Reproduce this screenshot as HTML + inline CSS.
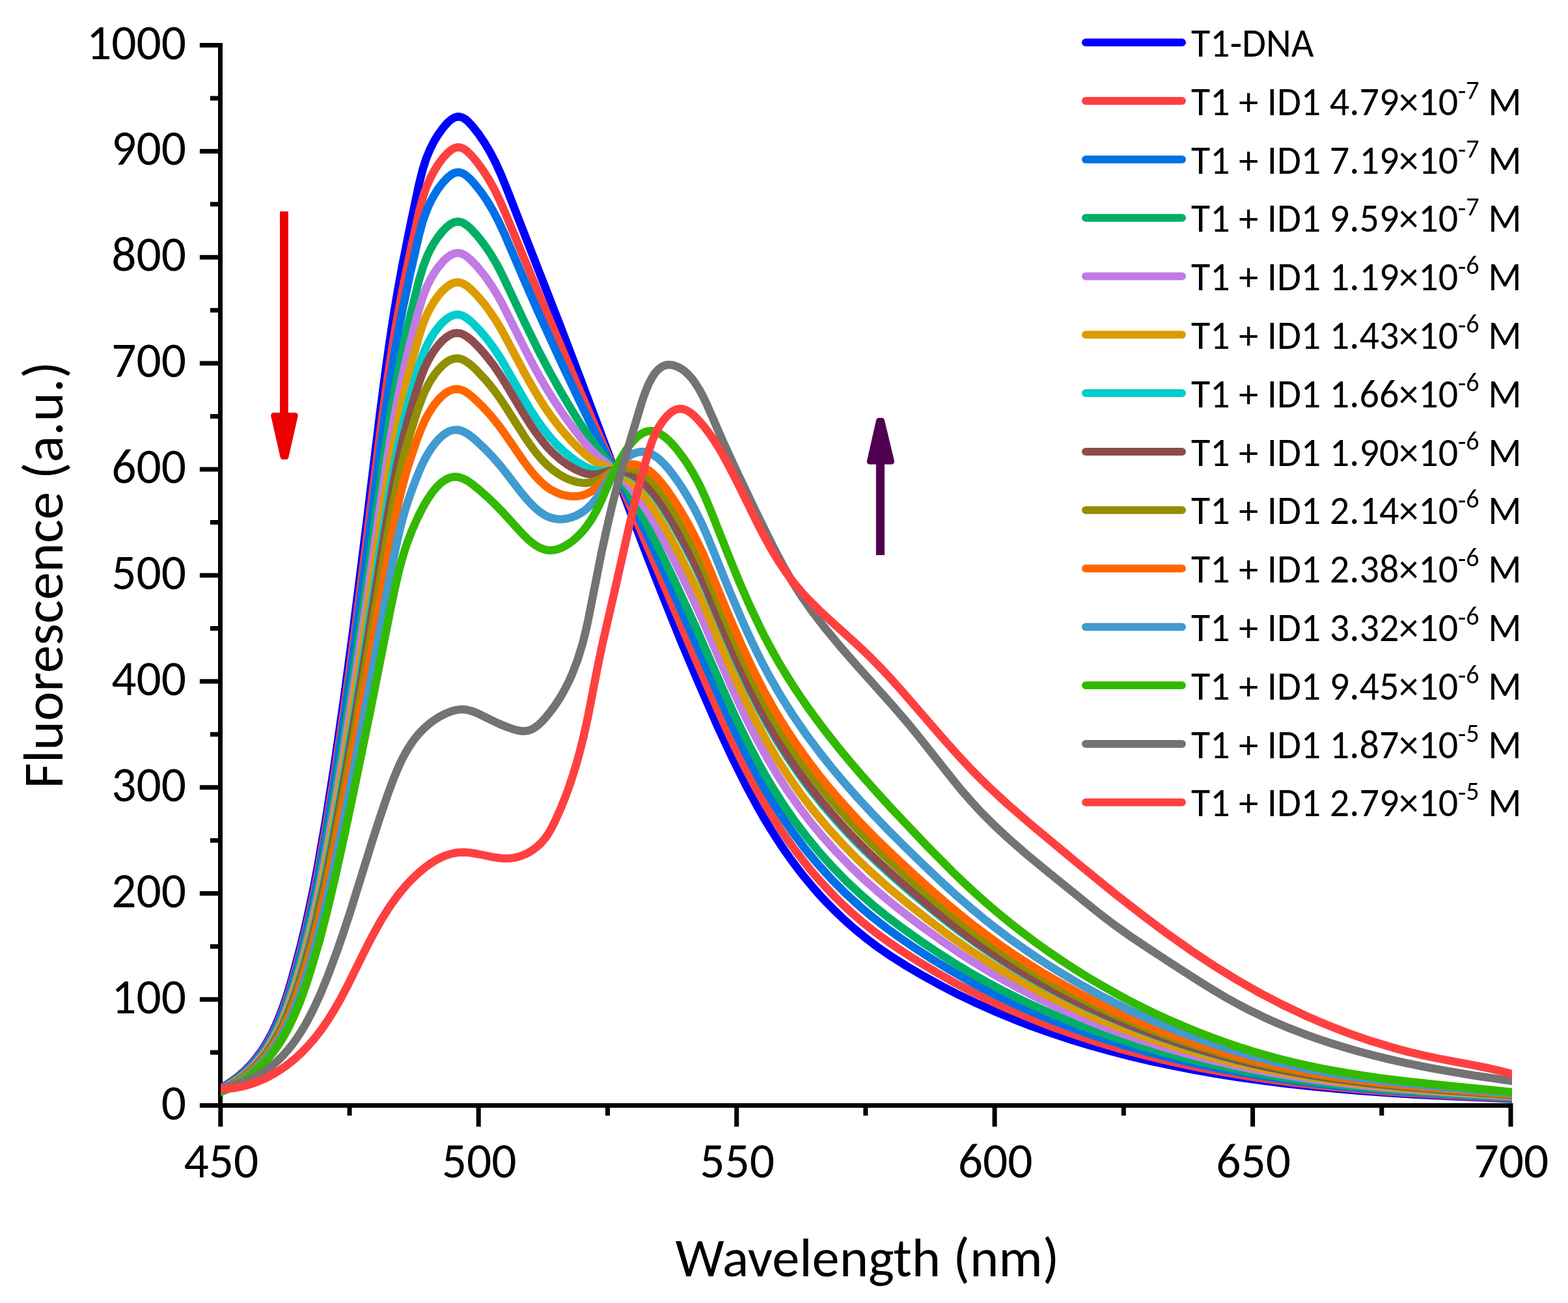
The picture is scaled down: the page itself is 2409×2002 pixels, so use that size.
<!DOCTYPE html>
<html><head><meta charset="utf-8"><title>Fluorescence spectra</title>
<style>html,body{margin:0;padding:0;background:#fff;overflow:hidden}svg{display:block}
text{font-family:Carlito,"Liberation Sans",sans-serif;fill:#000}</style></head>
<body>
<svg xmlns="http://www.w3.org/2000/svg" width="2409" height="2002" viewBox="0 0 2409 2002">
<rect width="2409" height="2002" fill="#fff"/>
<g fill="#000">
<rect x="335.0" y="66.0" width="7.0" height="1632.5"/>
<rect x="335.0" y="1695.0" width="1989.5" height="7.0"/>
<rect x="306.9" y="1695.0" width="28.1" height="7.0"/>
<rect x="322.9" y="1613.5" width="12.1" height="7.0"/>
<rect x="306.9" y="1532.1" width="28.1" height="7.0"/>
<rect x="322.9" y="1450.7" width="12.1" height="7.0"/>
<rect x="306.9" y="1369.2" width="28.1" height="7.0"/>
<rect x="322.9" y="1287.8" width="12.1" height="7.0"/>
<rect x="306.9" y="1206.3" width="28.1" height="7.0"/>
<rect x="322.9" y="1124.8" width="12.1" height="7.0"/>
<rect x="306.9" y="1043.4" width="28.1" height="7.0"/>
<rect x="322.9" y="962.0" width="12.1" height="7.0"/>
<rect x="306.9" y="880.5" width="28.1" height="7.0"/>
<rect x="322.9" y="799.0" width="12.1" height="7.0"/>
<rect x="306.9" y="717.6" width="28.1" height="7.0"/>
<rect x="322.9" y="636.2" width="12.1" height="7.0"/>
<rect x="306.9" y="554.7" width="28.1" height="7.0"/>
<rect x="322.9" y="473.2" width="12.1" height="7.0"/>
<rect x="306.9" y="391.8" width="28.1" height="7.0"/>
<rect x="322.9" y="310.3" width="12.1" height="7.0"/>
<rect x="306.9" y="228.9" width="28.1" height="7.0"/>
<rect x="322.9" y="147.5" width="12.1" height="7.0"/>
<rect x="306.9" y="66.0" width="28.1" height="7.0"/>
<rect x="335.3" y="1702.0" width="7.0" height="29.0"/>
<rect x="533.5" y="1702.0" width="7.0" height="12.1"/>
<rect x="731.7" y="1702.0" width="7.0" height="29.0"/>
<rect x="930.0" y="1702.0" width="7.0" height="12.1"/>
<rect x="1128.2" y="1702.0" width="7.0" height="29.0"/>
<rect x="1326.4" y="1702.0" width="7.0" height="12.1"/>
<rect x="1524.6" y="1702.0" width="7.0" height="29.0"/>
<rect x="1722.8" y="1702.0" width="7.0" height="12.1"/>
<rect x="1921.1" y="1702.0" width="7.0" height="29.0"/>
<rect x="2119.3" y="1702.0" width="7.0" height="12.1"/>
<rect x="2317.5" y="1702.0" width="7.0" height="29.0"/>
</g>
<defs><clipPath id="pa"><rect x="339" y="0" width="1984" height="1702"/></clipPath></defs>
<g fill="none" stroke-width="12.5" stroke-linejoin="round" stroke-linecap="butt" clip-path="url(#pa)">
<path stroke="#0000FF" d="M332.0 1675.8 L346.0 1667.9 L356.2 1661.2 L366.5 1653.5 L376.2 1644.9 L385.5 1635.4 L394.2 1624.9 L402.5 1613.6 L410.2 1601.2 L417.2 1588.4 L423.8 1574.7 L430.0 1559.8 L436.0 1543.6 L441.8 1526.1 L448.0 1505.2 L455.2 1478.9 L462.0 1452.8 L469.0 1423.6 L475.5 1394.4 L481.8 1364.3 L488.0 1331.9 L500.2 1261.7 L513.8 1175.0 L528.8 1070.8 L544.0 956.8 L559.2 836.2 L584.0 633.5 L592.8 566.0 L598.8 523.6 L605.0 482.9 L611.2 445.8 L618.2 407.6 L629.5 350.8 L643.8 282.8 L649.5 260.0 L655.5 241.8 L660.8 229.2 L666.5 217.8 L673.0 207.1 L680.5 196.7 L687.2 188.9 L693.5 183.4 L696.2 181.7 L699.2 180.3 L702.0 179.5 L704.5 179.3 L707.5 179.6 L710.8 180.8 L714.0 182.6 L717.8 185.4 L725.2 193.1 L735.0 205.5 L744.5 219.4 L753.2 234.1 L761.5 250.1 L769.8 268.3 L779.5 292.3 L860.5 500.1 L890.8 579.7 L971.0 793.4 L995.5 857.4 L1017.8 914.2 L1046.2 984.8 L1073.5 1049.7 L1101.2 1113.0 L1124.8 1163.8 L1145.0 1204.6 L1165.0 1241.7 L1175.0 1259.0 L1185.0 1275.5 L1195.0 1291.2 L1205.2 1306.5 L1215.5 1321.0 L1226.0 1335.1 L1236.8 1348.8 L1247.8 1362.0 L1259.2 1375.1 L1270.8 1387.4 L1282.8 1399.6 L1294.8 1411.1 L1312.5 1426.9 L1330.8 1441.8 L1349.5 1455.9 L1369.0 1469.3 L1392.5 1484.1 L1418.8 1499.6 L1445.5 1514.3 L1472.5 1528.2 L1499.5 1541.1 L1527.0 1553.4 L1555.2 1565.1 L1584.0 1576.3 L1613.5 1586.8 L1643.5 1596.7 L1674.5 1606.2 L1706.0 1615.0 L1736.8 1622.9 L1768.2 1630.3 L1800.5 1637.2 L1833.5 1643.6 L1867.2 1649.6 L1902.0 1655.1 L1937.8 1660.1 L1974.5 1664.7 L2011.8 1668.9 L2050.5 1672.6 L2090.5 1676.0 L2132.2 1679.0 L2176.0 1681.7 L2222.5 1684.1 L2329.8 1688.5"/>
<path stroke="#FF4040" d="M332.0 1676.2 L346.0 1668.5 L356.2 1662.0 L366.5 1654.4 L376.2 1646.0 L385.5 1636.8 L394.2 1626.6 L402.5 1615.5 L410.2 1603.5 L417.2 1591.1 L423.8 1577.8 L430.0 1563.4 L436.0 1547.7 L442.0 1530.1 L448.2 1509.8 L455.2 1485.2 L462.0 1459.8 L468.8 1432.5 L475.5 1403.1 L481.8 1373.8 L488.0 1342.4 L500.2 1274.2 L513.8 1190.2 L528.8 1089.0 L544.0 978.6 L559.2 861.9 L584.2 664.0 L593.2 596.9 L599.2 555.8 L605.5 516.3 L611.8 480.2 L618.5 444.5 L629.5 391.0 L643.8 326.0 L649.5 304.1 L652.5 294.8 L655.8 285.9 L661.0 273.8 L666.8 262.9 L673.2 252.5 L680.5 242.8 L687.0 235.6 L693.0 230.5 L696.0 228.6 L698.8 227.3 L701.5 226.6 L704.2 226.3 L707.2 226.6 L710.2 227.6 L713.2 229.2 L716.8 231.6 L724.0 238.5 L732.8 248.9 L742.2 261.9 L751.0 275.6 L759.5 290.8 L767.5 307.2 L777.0 329.0 L832.5 463.1 L888.2 594.4 L914.0 654.2 L950.0 735.6 L975.0 793.1 L1065.5 1005.4 L1095.8 1074.9 L1113.2 1114.0 L1130.5 1150.9 L1147.0 1184.1 L1165.2 1218.2 L1183.8 1250.0 L1202.5 1279.3 L1221.8 1306.7 L1241.8 1332.4 L1252.2 1344.9 L1262.8 1356.8 L1273.8 1368.6 L1285.0 1380.1 L1296.2 1391.1 L1308.0 1401.9 L1326.2 1417.7 L1345.2 1432.8 L1365.0 1447.3 L1386.8 1462.0 L1413.0 1478.7 L1440.0 1494.9 L1467.2 1510.2 L1494.8 1524.6 L1521.0 1537.4 L1548.0 1549.8 L1575.8 1561.6 L1603.8 1572.8 L1632.5 1583.4 L1661.8 1593.4 L1692.0 1603.0 L1722.5 1611.9 L1752.8 1620.0 L1783.8 1627.6 L1815.2 1634.7 L1847.5 1641.3 L1880.5 1647.4 L1914.2 1653.1 L1948.8 1658.3 L1984.2 1663.0 L2019.2 1667.1 L2056.0 1670.9 L2094.2 1674.3 L2134.5 1677.4 L2176.2 1680.1 L2221.2 1682.7 L2329.8 1687.6"/>
<path stroke="#0070E6" d="M332.0 1676.5 L345.8 1669.1 L356.0 1662.8 L366.2 1655.4 L376.0 1647.2 L385.2 1638.1 L394.0 1628.3 L402.2 1617.5 L410.0 1605.8 L417.0 1593.7 L423.5 1580.9 L429.8 1566.9 L436.0 1551.1 L441.8 1534.7 L448.0 1515.1 L455.0 1491.3 L461.8 1466.6 L468.5 1440.0 L475.0 1412.4 L481.5 1382.8 L487.8 1352.2 L500.0 1285.9 L513.5 1204.1 L528.5 1105.5 L544.0 996.4 L559.5 881.1 L584.5 688.7 L593.5 623.4 L599.8 581.6 L605.8 544.6 L612.0 509.3 L618.5 475.7 L629.5 423.8 L643.5 362.2 L649.5 340.2 L655.8 322.5 L661.0 310.7 L666.8 300.0 L673.2 289.9 L680.2 280.7 L686.8 273.7 L693.0 268.6 L696.0 266.8 L698.8 265.6 L701.5 264.9 L704.0 264.7 L706.8 265.0 L709.8 265.9 L712.8 267.3 L716.0 269.4 L722.5 275.1 L730.2 283.8 L739.8 296.0 L748.8 309.2 L757.2 323.4 L765.2 338.5 L776.0 361.7 L806.0 431.7 L826.5 478.5 L842.8 514.5 L861.5 555.1 L891.5 618.6 L911.0 658.8 L922.2 680.9 L963.8 760.2 L979.8 792.1 L994.2 822.1 L1010.2 856.5 L1031.2 903.1 L1071.2 993.2 L1105.8 1072.2 L1120.0 1103.8 L1131.5 1128.5 L1142.5 1151.1 L1153.2 1172.2 L1164.0 1192.4 L1181.2 1222.7 L1198.8 1250.8 L1217.0 1277.5 L1236.0 1302.9 L1255.8 1326.9 L1276.8 1350.2 L1298.8 1372.3 L1321.5 1393.2 L1340.8 1409.4 L1360.8 1425.0 L1383.0 1441.1 L1408.2 1458.3 L1434.5 1475.2 L1460.8 1491.2 L1487.0 1506.2 L1513.5 1520.4 L1539.5 1533.4 L1566.0 1545.9 L1593.2 1557.8 L1621.0 1569.2 L1649.2 1580.0 L1678.0 1590.2 L1707.5 1599.8 L1737.5 1608.9 L1767.0 1617.2 L1797.5 1625.1 L1828.5 1632.4 L1860.0 1639.1 L1892.0 1645.4 L1924.8 1651.1 L1958.2 1656.4 L1992.5 1661.2 L2026.2 1665.4 L2061.2 1669.2 L2097.8 1672.6 L2136.5 1675.8 L2220.2 1681.3 L2329.8 1686.8"/>
<path stroke="#00AF66" d="M332.0 1677.2 L345.8 1670.1 L355.8 1664.2 L366.0 1657.1 L375.8 1649.3 L385.0 1640.6 L393.8 1631.2 L402.0 1620.9 L409.8 1609.9 L416.8 1598.4 L423.5 1585.9 L429.8 1572.7 L436.0 1557.7 L442.0 1541.6 L448.2 1523.1 L455.0 1501.4 L461.5 1478.8 L468.2 1453.6 L475.0 1426.3 L481.5 1398.1 L487.8 1369.0 L500.0 1306.1 L513.2 1229.9 L528.5 1134.8 L544.2 1029.8 L559.8 920.9 L585.2 735.9 L594.2 674.1 L600.5 634.5 L606.5 599.2 L612.2 568.1 L618.5 537.3 L629.2 489.5 L643.2 432.7 L649.5 411.3 L656.0 394.2 L661.2 383.1 L667.0 372.9 L673.2 363.7 L680.0 355.3 L686.2 348.9 L692.2 344.3 L698.0 341.4 L700.8 340.7 L703.5 340.5 L708.0 341.1 L713.0 343.3 L718.2 346.9 L724.0 352.1 L731.5 360.3 L739.8 370.4 L747.5 380.9 L754.8 391.9 L763.5 406.7 L772.2 423.5 L808.0 499.3 L828.5 540.9 L844.5 571.3 L862.2 602.8 L883.2 637.9 L901.2 665.6 L915.5 685.4 L939.8 716.4 L952.5 734.7 L966.0 756.1 L980.2 780.8 L993.5 805.3 L1006.5 830.6 L1020.2 858.7 L1036.5 893.0 L1068.8 963.2 L1114.5 1067.8 L1126.8 1094.8 L1138.2 1119.2 L1150.8 1144.5 L1163.0 1168.0 L1175.2 1190.1 L1187.8 1211.3 L1204.5 1237.6 L1221.8 1262.5 L1239.8 1286.3 L1258.8 1309.4 L1278.8 1331.7 L1299.8 1353.1 L1321.8 1373.8 L1344.8 1393.7 L1365.0 1409.8 L1387.5 1426.7 L1413.5 1445.2 L1439.8 1462.9 L1464.2 1478.6 L1488.8 1493.4 L1513.0 1507.2 L1537.8 1520.5 L1563.5 1533.5 L1589.5 1545.8 L1616.2 1557.6 L1643.2 1568.8 L1671.0 1579.5 L1699.2 1589.6 L1728.0 1599.2 L1757.2 1608.3 L1786.2 1616.5 L1815.5 1624.2 L1845.5 1631.5 L1875.8 1638.2 L1906.8 1644.4 L1938.0 1650.1 L1970.0 1655.3 L2002.5 1660.0 L2034.5 1664.1 L2068.0 1667.8 L2103.0 1671.3 L2140.0 1674.4 L2220.2 1680.0 L2329.8 1686.1"/>
<path stroke="#C27AE4" d="M332.0 1677.6 L345.8 1670.7 L355.8 1664.9 L365.8 1658.2 L375.5 1650.6 L384.8 1642.3 L393.5 1633.2 L401.8 1623.3 L409.5 1612.6 L416.5 1601.6 L423.2 1589.5 L429.5 1576.8 L435.8 1562.6 L441.8 1547.2 L448.0 1529.4 L454.8 1508.6 L461.2 1486.9 L468.0 1462.5 L474.5 1437.2 L481.0 1410.0 L487.5 1380.8 L499.8 1320.2 L513.0 1246.7 L528.2 1154.9 L544.2 1052.2 L560.0 945.7 L585.8 766.1 L595.0 704.9 L601.2 666.6 L607.2 632.5 L613.0 602.5 L618.8 575.2 L629.2 530.6 L643.0 477.6 L649.5 456.5 L652.8 447.7 L656.2 439.5 L661.5 428.9 L667.2 419.1 L673.5 410.2 L680.0 402.4 L686.2 396.3 L692.2 392.0 L698.0 389.4 L703.2 388.6 L708.0 389.3 L713.0 391.4 L718.2 394.9 L724.0 399.9 L731.8 408.1 L740.0 417.9 L747.8 428.0 L755.2 438.9 L763.5 452.2 L771.8 467.1 L809.0 541.3 L820.2 562.7 L830.8 581.7 L841.0 599.2 L851.8 616.3 L863.5 633.9 L876.0 651.5 L893.5 674.3 L901.5 683.7 L909.0 691.9 L919.8 702.2 L936.5 715.9 L944.2 722.7 L953.0 731.3 L961.5 740.5 L970.8 751.7 L980.2 764.3 L989.5 777.8 L998.8 792.3 L1011.0 813.3 L1025.0 839.3 L1041.2 871.4 L1059.8 909.5 L1080.5 954.7 L1110.0 1023.4 L1124.5 1056.3 L1138.2 1086.1 L1151.2 1112.9 L1165.5 1140.5 L1179.8 1166.2 L1194.2 1190.4 L1209.2 1213.7 L1226.8 1238.7 L1245.0 1262.7 L1264.2 1285.9 L1284.5 1308.5 L1305.8 1330.5 L1328.2 1351.9 L1351.5 1372.5 L1376.8 1393.3 L1400.8 1412.0 L1425.8 1430.6 L1449.8 1447.7 L1473.2 1463.7 L1496.0 1478.4 L1519.0 1492.4 L1542.5 1506.0 L1566.5 1519.0 L1591.8 1532.0 L1617.2 1544.2 L1643.5 1556.1 L1670.2 1567.4 L1697.2 1578.1 L1725.0 1588.3 L1753.0 1597.9 L1781.5 1607.0 L1809.2 1615.1 L1837.2 1622.8 L1865.8 1629.9 L1894.8 1636.6 L1924.0 1642.7 L1953.8 1648.3 L1983.8 1653.4 L2014.2 1658.1 L2044.2 1662.1 L2075.8 1665.8 L2109.0 1669.3 L2144.0 1672.4 L2219.2 1678.1 L2329.8 1684.9"/>
<path stroke="#DC9C00" d="M332.0 1678.0 L345.5 1671.4 L355.5 1665.8 L365.8 1659.1 L375.2 1651.9 L384.5 1643.8 L393.2 1635.0 L401.5 1625.4 L409.5 1614.8 L416.8 1603.7 L423.5 1592.0 L429.8 1579.7 L436.0 1565.9 L442.0 1551.1 L448.2 1534.0 L454.8 1514.6 L461.2 1493.6 L468.0 1470.0 L474.5 1445.4 L481.0 1419.1 L487.5 1390.8 L499.8 1332.1 L513.0 1261.1 L528.2 1172.3 L544.5 1071.6 L560.5 967.3 L586.2 794.4 L595.5 735.3 L601.8 698.2 L607.8 665.1 L613.2 637.2 L618.8 612.0 L629.2 569.1 L642.8 519.8 L649.5 498.9 L653.0 489.9 L656.5 482.1 L661.8 471.9 L667.5 462.5 L673.5 454.2 L680.0 446.7 L686.0 441.1 L692.0 437.0 L697.5 434.6 L700.2 433.9 L703.0 433.7 L707.5 434.3 L712.5 436.3 L717.5 439.5 L723.0 444.0 L730.0 450.9 L738.0 459.8 L745.8 469.3 L753.2 479.4 L762.0 492.5 L770.8 507.2 L807.5 576.0 L817.8 594.2 L827.5 610.7 L837.2 625.9 L847.0 639.9 L857.5 653.7 L868.5 667.0 L879.2 679.0 L889.2 689.1 L899.0 698.1 L907.8 705.0 L913.8 709.0 L919.5 712.1 L937.8 719.6 L946.5 723.9 L956.0 729.9 L965.2 737.0 L975.0 746.0 L984.8 756.6 L994.2 768.3 L1003.5 781.3 L1016.0 801.2 L1030.2 826.2 L1046.8 857.5 L1063.5 891.0 L1073.2 911.6 L1082.5 932.2 L1113.2 1004.5 L1130.0 1042.6 L1146.2 1077.5 L1162.0 1109.0 L1178.5 1139.6 L1195.2 1167.9 L1213.2 1195.7 L1232.0 1222.3 L1251.5 1247.6 L1272.2 1272.3 L1294.0 1296.3 L1317.2 1320.0 L1340.8 1342.3 L1365.8 1364.4 L1395.0 1388.6 L1427.8 1414.5 L1450.5 1431.6 L1472.8 1447.6 L1494.5 1462.6 L1516.0 1476.6 L1538.5 1490.5 L1561.2 1503.8 L1584.5 1516.7 L1608.2 1529.1 L1632.8 1541.1 L1657.5 1552.6 L1682.8 1563.7 L1708.5 1574.2 L1734.5 1584.2 L1761.0 1593.7 L1787.8 1602.6 L1815.0 1611.1 L1840.8 1618.5 L1867.0 1625.5 L1893.5 1632.1 L1920.5 1638.2 L1947.5 1643.7 L1975.0 1648.9 L2002.5 1653.5 L2030.8 1657.8 L2058.8 1661.5 L2088.2 1665.1 L2151.8 1671.4 L2221.5 1676.9 L2329.8 1684.1"/>
<path stroke="#00CDCD" d="M332.0 1678.4 L345.5 1672.0 L355.2 1666.7 L365.2 1660.5 L375.0 1653.3 L384.2 1645.5 L393.0 1637.0 L401.2 1627.7 L409.2 1617.5 L416.5 1606.9 L423.2 1595.7 L429.8 1583.5 L436.0 1570.3 L442.0 1556.1 L448.2 1539.7 L454.8 1521.2 L461.0 1501.8 L467.5 1479.9 L474.2 1455.4 L480.8 1430.0 L487.2 1402.9 L499.5 1346.5 L512.8 1278.2 L528.0 1192.8 L544.8 1093.2 L561.0 991.7 L587.0 824.5 L596.2 767.7 L602.2 733.3 L608.2 701.3 L613.5 675.5 L618.8 652.3 L629.0 612.3 L642.2 566.7 L649.2 546.1 L653.0 536.9 L656.8 528.9 L662.0 519.2 L667.8 510.1 L673.8 502.2 L680.0 495.3 L686.0 490.0 L691.8 486.3 L697.5 484.0 L702.8 483.3 L707.2 483.9 L711.8 485.6 L716.8 488.5 L722.0 492.5 L728.2 498.3 L735.5 505.8 L743.2 514.6 L750.5 523.6 L760.2 537.0 L769.8 551.6 L806.5 615.6 L816.5 632.0 L825.5 645.8 L835.0 659.2 L844.0 670.5 L853.8 681.4 L864.2 691.7 L875.8 701.5 L887.0 709.8 L898.0 716.5 L907.5 720.8 L913.8 722.6 L919.8 723.4 L925.0 723.4 L938.8 722.6 L948.0 723.2 L953.0 724.1 L957.8 725.3 L967.2 729.1 L976.2 734.2 L985.0 740.8 L993.8 748.9 L1002.2 758.5 L1008.8 766.9 L1015.5 776.5 L1030.2 800.0 L1047.5 830.5 L1064.8 863.7 L1074.5 884.0 L1083.8 904.6 L1115.8 980.7 L1133.5 1021.4 L1150.0 1056.8 L1166.0 1088.8 L1180.0 1114.7 L1194.2 1139.1 L1209.2 1162.8 L1225.0 1186.0 L1236.5 1201.8 L1248.5 1217.6 L1261.0 1233.2 L1273.8 1248.4 L1287.0 1263.5 L1301.0 1278.7 L1315.5 1293.8 L1330.5 1308.8 L1346.5 1324.1 L1363.2 1339.5 L1381.5 1355.6 L1402.0 1373.2 L1442.8 1406.7 L1462.0 1421.7 L1480.5 1435.7 L1500.8 1450.2 L1521.2 1464.3 L1542.2 1478.0 L1563.8 1491.3 L1585.5 1504.1 L1607.8 1516.5 L1630.5 1528.5 L1653.5 1540.0 L1676.8 1551.0 L1700.5 1561.6 L1724.5 1571.7 L1749.0 1581.4 L1773.5 1590.6 L1798.5 1599.3 L1823.8 1607.5 L1849.5 1615.3 L1873.5 1622.0 L1897.5 1628.3 L1921.8 1634.1 L1946.5 1639.7 L1971.0 1644.6 L1996.0 1649.3 L2021.2 1653.5 L2047.5 1657.4 L2100.5 1664.1 L2159.5 1670.1 L2223.0 1675.4 L2329.8 1683.1"/>
<path stroke="#8C4D4E" d="M332.0 1678.6 L345.5 1672.4 L355.2 1667.2 L365.2 1661.0 L375.0 1654.0 L384.2 1646.3 L393.0 1637.9 L401.2 1628.9 L409.0 1619.2 L416.2 1608.9 L423.2 1597.5 L429.8 1585.6 L436.0 1572.8 L442.0 1559.0 L448.2 1543.0 L454.8 1524.9 L461.0 1506.0 L467.5 1484.6 L474.0 1461.5 L480.8 1435.7 L487.2 1409.1 L499.8 1352.7 L512.8 1287.2 L528.2 1202.3 L545.0 1104.9 L561.2 1005.9 L587.8 839.9 L597.0 784.5 L608.8 720.9 L613.8 697.0 L618.8 675.3 L628.8 637.3 L641.8 594.0 L649.0 573.3 L652.8 564.3 L656.8 555.9 L662.0 546.4 L667.8 537.5 L673.8 529.7 L679.8 523.3 L685.8 518.1 L691.5 514.5 L697.0 512.3 L702.2 511.6 L706.8 512.1 L711.2 513.7 L716.0 516.3 L721.2 520.1 L727.0 525.1 L734.0 532.1 L741.8 540.6 L749.0 549.1 L759.2 562.5 L769.2 577.2 L777.5 590.6 L805.5 637.7 L814.8 652.2 L823.5 665.0 L832.8 677.3 L841.5 687.7 L850.8 697.1 L860.2 705.4 L871.5 713.8 L883.0 720.7 L893.5 725.4 L898.5 727.1 L903.5 728.3 L910.5 729.1 L917.2 728.8 L923.0 727.6 L936.8 723.8 L945.0 722.7 L949.5 722.7 L953.8 723.2 L958.2 724.1 L962.8 725.4 L967.5 727.3 L972.2 729.7 L977.0 732.6 L982.0 736.2 L991.8 744.6 L1001.5 755.0 L1008.0 763.1 L1014.8 772.5 L1022.0 783.4 L1029.8 795.9 L1047.2 826.6 L1064.8 860.0 L1074.5 880.3 L1083.8 900.8 L1116.2 978.2 L1134.2 1019.4 L1151.0 1055.4 L1167.5 1088.2 L1181.8 1114.4 L1196.2 1139.0 L1211.8 1163.3 L1228.2 1187.2 L1240.2 1203.6 L1252.5 1219.4 L1265.2 1235.1 L1278.8 1251.0 L1292.5 1266.4 L1307.0 1282.0 L1322.0 1297.4 L1337.5 1312.6 L1354.5 1328.7 L1373.0 1345.4 L1393.8 1363.6 L1416.5 1382.8 L1437.0 1399.7 L1456.5 1415.2 L1475.5 1429.8 L1494.2 1443.6 L1514.2 1457.6 L1534.5 1471.1 L1555.2 1484.4 L1576.5 1497.2 L1598.0 1509.6 L1620.0 1521.6 L1642.2 1533.1 L1665.0 1544.3 L1688.0 1554.9 L1711.2 1565.1 L1735.0 1574.9 L1759.0 1584.3 L1783.2 1593.1 L1808.0 1601.6 L1832.8 1609.5 L1858.0 1617.0 L1881.5 1623.5 L1905.2 1629.6 L1929.2 1635.3 L1953.2 1640.6 L1977.2 1645.4 L2001.5 1649.8 L2026.2 1653.9 L2052.0 1657.7 L2104.0 1664.2 L2161.8 1670.1 L2224.0 1675.3 L2329.8 1683.0"/>
<path stroke="#908F00" d="M332.0 1679.0 L345.2 1673.0 L355.0 1668.0 L365.0 1661.9 L374.5 1655.3 L383.8 1647.9 L392.5 1639.8 L400.8 1631.0 L408.8 1621.4 L416.0 1611.4 L423.0 1600.5 L429.5 1589.1 L435.8 1576.7 L442.0 1562.9 L448.2 1547.6 L454.5 1530.8 L460.8 1512.5 L467.2 1491.8 L473.8 1469.4 L480.5 1444.4 L487.0 1418.7 L499.5 1364.2 L512.5 1300.8 L528.0 1218.6 L545.5 1120.3 L562.0 1023.3 L588.8 861.6 L597.8 809.5 L609.2 749.1 L614.0 726.9 L618.8 707.0 L623.5 688.9 L628.8 670.5 L641.2 631.0 L649.0 609.8 L653.0 600.7 L657.2 592.2 L662.5 583.1 L668.0 574.9 L673.8 567.7 L679.8 561.5 L685.5 556.7 L691.2 553.2 L696.8 551.2 L702.0 550.5 L706.0 551.0 L710.5 552.4 L715.2 554.8 L720.2 558.2 L725.5 562.5 L731.8 568.4 L746.2 583.8 L757.5 597.4 L768.2 612.1 L777.2 625.7 L804.8 669.2 L813.8 682.4 L822.0 693.6 L831.0 704.6 L839.8 713.8 L848.5 721.4 L858.0 728.2 L863.8 731.6 L869.8 734.7 L875.8 737.2 L881.8 739.3 L887.2 740.8 L892.8 741.7 L898.2 742.1 L903.2 741.9 L910.5 740.7 L917.5 738.2 L923.2 735.1 L937.5 726.1 L942.0 723.8 L946.5 721.9 L951.2 720.5 L956.0 719.6 L960.8 719.3 L965.5 719.5 L970.5 720.3 L975.5 721.7 L980.5 723.8 L985.8 726.5 L990.8 729.8 L995.8 733.7 L1000.8 738.2 L1005.5 743.1 L1012.0 750.7 L1018.8 759.5 L1026.0 769.9 L1033.5 781.5 L1042.0 795.6 L1051.0 811.3 L1067.0 841.4 L1076.0 860.0 L1084.8 879.6 L1118.0 959.5 L1136.8 1002.6 L1154.5 1040.7 L1172.0 1075.2 L1186.8 1101.9 L1202.2 1127.6 L1218.8 1152.9 L1236.5 1178.1 L1249.2 1195.0 L1262.8 1212.1 L1276.8 1228.9 L1291.5 1245.8 L1306.8 1262.6 L1322.5 1279.1 L1339.2 1296.0 L1356.5 1312.7 L1377.5 1332.3 L1401.2 1353.7 L1425.5 1374.9 L1448.0 1393.9 L1468.5 1410.6 L1488.2 1426.0 L1507.8 1440.6 L1527.5 1454.6 L1547.2 1468.1 L1567.2 1481.0 L1587.5 1493.5 L1608.2 1505.7 L1629.2 1517.5 L1650.5 1528.8 L1672.0 1539.7 L1694.0 1550.2 L1716.2 1560.3 L1738.8 1570.0 L1761.5 1579.3 L1784.5 1588.1 L1807.8 1596.5 L1831.2 1604.4 L1855.0 1611.9 L1879.0 1619.0 L1901.2 1625.1 L1923.5 1630.7 L1946.0 1636.0 L1968.8 1641.0 L2014.0 1649.6 L2062.2 1657.1 L2111.5 1663.4 L2166.2 1669.0 L2224.2 1674.1 L2329.8 1682.3"/>
<path stroke="#FF6600" d="M332.0 1679.4 L345.2 1673.6 L355.0 1668.7 L365.0 1662.9 L374.5 1656.4 L383.5 1649.4 L392.2 1641.6 L400.5 1633.2 L408.5 1623.9 L415.8 1614.4 L422.8 1604.0 L429.5 1592.6 L435.8 1580.8 L442.0 1567.7 L448.2 1553.1 L454.5 1537.0 L460.5 1520.2 L467.0 1500.3 L473.5 1478.8 L480.2 1454.8 L486.8 1430.1 L499.2 1377.8 L512.2 1317.0 L528.0 1236.8 L546.0 1139.8 L563.0 1044.2 L590.2 886.8 L599.0 838.3 L609.8 783.8 L614.2 763.6 L618.8 745.5 L623.2 729.0 L628.2 712.3 L640.2 676.6 L644.8 664.5 L648.8 654.7 L653.0 645.5 L657.5 637.0 L662.8 628.3 L668.2 620.4 L674.0 613.5 L679.8 607.8 L685.2 603.5 L690.8 600.3 L696.2 598.4 L701.5 597.8 L705.5 598.2 L709.5 599.3 L713.8 601.2 L718.2 604.0 L723.0 607.5 L728.2 611.9 L741.5 624.8 L754.5 639.1 L766.5 654.0 L776.8 668.2 L804.0 707.9 L812.5 719.4 L820.2 728.9 L829.2 738.6 L837.8 746.3 L846.2 752.3 L855.0 756.8 L861.0 759.2 L867.0 760.9 L873.0 762.0 L879.2 762.6 L884.5 762.6 L890.0 762.0 L895.5 760.8 L900.8 759.0 L908.5 755.2 L916.0 749.9 L922.2 744.2 L936.8 729.2 L941.2 725.2 L945.5 721.9 L950.2 718.9 L954.8 716.6 L959.5 714.8 L964.2 713.7 L969.5 713.3 L975.0 713.6 L980.2 714.7 L985.8 716.6 L991.2 719.3 L996.8 722.8 L1002.0 726.8 L1007.5 732.0 L1014.0 739.1 L1020.8 747.4 L1028.0 757.4 L1035.5 768.5 L1044.0 782.1 L1052.8 797.0 L1060.8 811.4 L1068.2 825.8 L1077.0 843.9 L1085.5 863.0 L1119.2 944.7 L1138.8 989.8 L1157.2 1029.4 L1175.5 1065.1 L1191.0 1092.7 L1207.8 1120.1 L1225.8 1147.0 L1244.8 1173.3 L1259.2 1192.1 L1274.2 1210.5 L1290.2 1229.3 L1307.0 1248.0 L1324.2 1266.4 L1342.5 1285.1 L1361.5 1303.7 L1382.8 1323.9 L1408.5 1347.6 L1432.8 1369.3 L1455.2 1388.7 L1476.5 1406.3 L1497.2 1422.8 L1517.8 1438.3 L1539.0 1453.6 L1560.5 1468.3 L1579.5 1480.6 L1599.0 1492.8 L1618.8 1504.5 L1638.8 1515.8 L1659.2 1526.9 L1679.8 1537.4 L1700.8 1547.7 L1721.8 1557.5 L1743.0 1566.9 L1764.5 1575.9 L1786.2 1584.5 L1808.5 1592.8 L1830.8 1600.6 L1853.0 1607.9 L1875.8 1615.0 L1898.5 1621.5 L1940.8 1632.4 L1983.2 1641.9 L2026.0 1649.9 L2072.0 1657.0 L2118.8 1662.9 L2170.8 1668.4 L2225.0 1673.2 L2329.8 1681.7"/>
<path stroke="#419AD0" d="M332.0 1679.9 L345.2 1674.4 L354.8 1669.8 L364.5 1664.4 L374.0 1658.3 L383.2 1651.4 L392.0 1644.0 L400.2 1636.0 L408.2 1627.2 L415.8 1617.8 L422.8 1608.0 L429.5 1597.3 L436.0 1585.8 L442.2 1573.5 L448.5 1559.8 L454.5 1545.3 L460.5 1529.4 L466.8 1511.3 L473.2 1490.9 L480.0 1468.1 L486.8 1443.8 L499.2 1394.3 L512.2 1336.8 L528.5 1258.4 L547.5 1161.8 L563.0 1079.9 L591.8 924.0 L600.8 876.7 L610.8 828.7 L614.8 811.7 L618.8 796.4 L623.0 781.8 L627.5 767.8 L632.8 752.8 L638.5 737.6 L643.8 724.6 L648.2 714.5 L653.0 704.9 L658.0 696.1 L663.2 687.9 L668.5 680.9 L674.0 674.6 L679.5 669.5 L685.0 665.4 L690.2 662.6 L695.5 660.9 L700.8 660.4 L705.0 660.8 L709.2 662.0 L713.8 664.0 L718.8 666.9 L724.0 670.7 L729.8 675.4 L744.5 689.1 L756.8 701.8 L768.5 715.3 L778.5 727.8 L798.5 753.9 L807.5 765.0 L815.8 774.1 L823.2 781.4 L831.0 787.7 L838.5 792.3 L845.8 795.4 L853.5 797.2 L859.5 797.7 L866.0 797.5 L872.2 796.5 L878.8 794.7 L884.8 792.4 L890.5 789.4 L896.5 785.6 L902.0 781.3 L909.8 773.8 L917.0 764.9 L923.2 755.6 L938.2 731.5 L943.2 724.2 L948.0 718.1 L953.2 712.0 L958.5 706.9 L963.8 702.6 L969.0 699.2 L974.8 696.4 L980.5 694.7 L986.0 694.1 L991.8 694.5 L997.2 695.9 L1002.8 698.4 L1008.2 701.9 L1014.0 706.6 L1020.2 712.7 L1027.0 720.4 L1034.0 729.3 L1041.2 739.4 L1049.5 751.9 L1057.2 764.6 L1064.5 777.3 L1071.2 790.2 L1079.0 806.2 L1086.8 823.9 L1121.5 909.5 L1142.0 957.4 L1152.0 979.4 L1162.0 1000.3 L1171.8 1019.7 L1181.5 1038.1 L1198.8 1068.2 L1217.5 1097.9 L1237.8 1127.4 L1259.8 1156.8 L1277.8 1179.4 L1297.0 1202.4 L1317.5 1225.6 L1339.2 1249.1 L1363.5 1274.3 L1390.8 1301.6 L1421.8 1331.7 L1448.8 1357.1 L1470.2 1376.6 L1491.0 1394.6 L1511.2 1411.3 L1531.8 1427.5 L1553.0 1443.4 L1574.8 1458.9 L1597.0 1474.0 L1619.8 1488.6 L1656.0 1510.4 L1693.2 1530.9 L1731.5 1550.2 L1770.2 1567.9 L1809.8 1584.2 L1850.0 1599.2 L1890.8 1612.6 L1931.8 1624.5 L1969.2 1634.0 L2007.0 1642.2 L2046.5 1649.5 L2088.8 1656.0 L2130.8 1661.4 L2178.0 1666.5 L2224.2 1671.0 L2329.8 1680.4"/>
<path stroke="#32B900" d="M332.0 1680.5 L345.5 1675.2 L355.5 1670.6 L366.0 1664.9 L375.8 1658.8 L385.5 1651.7 L394.5 1644.2 L403.2 1635.9 L411.5 1626.9 L419.2 1617.4 L426.8 1606.9 L434.0 1595.6 L440.8 1583.7 L447.2 1570.9 L453.5 1557.2 L459.8 1542.0 L465.8 1525.9 L471.8 1508.4 L478.2 1488.1 L490.8 1445.4 L502.8 1399.4 L515.0 1347.6 L530.0 1279.3 L547.2 1197.8 L568.8 1092.7 L600.0 935.5 L607.8 899.0 L613.5 874.5 L617.8 858.7 L622.2 844.0 L627.0 830.3 L632.5 816.2 L639.0 801.1 L645.8 787.0 L652.2 774.8 L658.8 764.2 L665.2 755.0 L671.8 747.4 L678.2 741.3 L684.8 736.8 L691.2 733.9 L697.5 732.7 L700.8 732.6 L704.0 733.0 L710.5 734.9 L718.0 738.7 L726.2 744.3 L735.8 752.1 L749.8 764.6 L760.5 774.8 L771.0 785.5 L803.8 821.5 L811.8 829.2 L819.0 835.2 L824.0 838.6 L828.8 841.3 L833.5 843.3 L838.0 844.7 L842.5 845.4 L847.0 845.5 L851.8 845.0 L856.8 843.8 L862.0 841.9 L867.5 839.2 L873.0 835.9 L878.5 832.0 L884.0 827.5 L889.5 822.3 L894.8 816.7 L900.0 810.4 L908.5 798.4 L916.2 784.9 L923.0 770.9 L937.2 738.1 L944.8 721.9 L953.5 705.2 L962.0 691.4 L967.0 684.4 L971.8 678.6 L976.5 673.6 L981.2 669.4 L986.0 666.2 L990.5 663.9 L995.0 662.6 L999.8 662.0 L1003.0 662.3 L1006.5 663.1 L1010.0 664.3 L1013.8 666.2 L1021.2 671.2 L1029.2 678.4 L1038.0 688.0 L1047.2 699.9 L1056.5 713.2 L1065.2 727.5 L1074.8 745.3 L1084.0 765.3 L1092.5 785.8 L1121.0 857.9 L1136.0 894.4 L1153.5 934.2 L1170.5 969.8 L1179.5 987.2 L1188.8 1004.3 L1198.2 1020.8 L1208.5 1037.8 L1219.2 1054.7 L1230.5 1071.6 L1242.5 1088.8 L1255.0 1106.0 L1271.0 1127.1 L1288.2 1148.8 L1306.5 1170.9 L1326.2 1193.9 L1347.2 1217.5 L1370.2 1242.7 L1424.8 1300.4 L1464.0 1339.9 L1482.0 1357.2 L1499.5 1373.4 L1517.0 1388.9 L1534.8 1404.0 L1553.0 1418.9 L1571.5 1433.3 L1590.8 1447.7 L1610.0 1461.5 L1629.8 1475.0 L1649.8 1488.1 L1670.0 1500.7 L1690.5 1512.9 L1711.5 1524.8 L1732.5 1536.2 L1753.8 1547.0 L1775.2 1557.5 L1796.8 1567.4 L1818.5 1576.8 L1840.5 1585.8 L1862.5 1594.3 L1884.8 1602.3 L1907.0 1609.8 L1927.2 1616.1 L1947.5 1622.0 L1967.8 1627.5 L1988.2 1632.6 L2008.5 1637.2 L2029.5 1641.6 L2073.5 1649.5 L2117.5 1656.1 L2167.0 1662.2 L2214.8 1667.3 L2329.8 1678.7"/>
<path stroke="#737373" d="M332.3 1672.1 L345.5 1670.2 L354.8 1668.4 L364.6 1665.9 L374.0 1662.8 L383.3 1659.0 L392.6 1654.5 L401.4 1649.4 L409.7 1643.8 L418.0 1637.4 L426.1 1630.3 L433.8 1622.7 L441.4 1614.3 L448.8 1605.2 L455.7 1595.6 L462.5 1585.2 L469.4 1573.8 L480.6 1552.5 L492.0 1527.8 L504.2 1498.0 L517.0 1463.6 L527.2 1434.1 L537.9 1401.7 L570.5 1296.9 L582.3 1260.1 L594.7 1223.4 L604.5 1196.8 L613.7 1175.0 L618.2 1165.6 L623.0 1156.7 L627.9 1148.5 L632.9 1140.9 L638.0 1134.0 L643.5 1127.3 L650.9 1119.7 L658.5 1112.8 L666.5 1106.8 L675.1 1101.3 L684.4 1096.5 L693.0 1093.0 L701.0 1090.9 L708.6 1090.0 L713.4 1090.1 L718.0 1090.8 L723.0 1092.0 L728.4 1093.8 L736.6 1097.3 L755.4 1106.7 L766.5 1111.9 L777.9 1116.6 L788.6 1120.4 L795.4 1122.3 L801.4 1123.2 L806.4 1123.3 L811.3 1122.6 L816.3 1120.9 L821.5 1118.0 L826.7 1114.2 L832.2 1109.0 L838.9 1101.7 L846.4 1092.3 L853.1 1083.2 L859.5 1073.5 L864.9 1064.4 L869.9 1055.1 L874.7 1045.4 L879.1 1035.5 L887.2 1014.3 L894.5 990.7 L898.8 974.1 L903.1 955.4 L924.5 847.2 L932.8 809.3 L941.1 773.8 L948.9 743.5 L956.8 715.1 L986.9 615.1 L991.7 601.7 L996.4 590.4 L1001.2 581.1 L1006.0 573.7 L1011.1 567.9 L1016.6 563.6 L1022.0 561.2 L1025.1 560.6 L1027.9 560.4 L1033.5 561.0 L1040.1 563.1 L1046.2 566.2 L1052.0 570.3 L1057.7 575.6 L1063.3 581.9 L1068.7 589.5 L1074.1 598.0 L1079.9 608.8 L1086.2 621.9 L1112.5 682.2 L1134.8 730.7 L1162.7 789.0 L1188.4 841.2 L1203.3 869.4 L1217.1 893.5 L1231.0 915.5 L1246.5 937.7 L1266.9 964.3 L1290.7 993.1 L1314.1 1019.9 L1369.5 1081.8 L1395.6 1112.1 L1415.5 1136.6 L1463.3 1197.2 L1477.1 1214.1 L1489.8 1228.7 L1508.3 1248.9 L1528.6 1269.1 L1551.1 1289.9 L1577.0 1312.5 L1608.8 1338.8 L1689.6 1404.0 L1713.2 1421.9 L1739.8 1440.8 L1768.3 1459.8 L1815.8 1490.7 L1842.8 1508.0 L1864.9 1521.7 L1885.1 1533.6 L1903.8 1543.9 L1922.8 1553.7 L1942.4 1563.2 L1961.5 1571.7 L1981.2 1579.9 L2001.5 1587.8 L2022.3 1595.3 L2043.7 1602.5 L2065.7 1609.3 L2088.2 1615.8 L2111.3 1621.9 L2134.9 1627.6 L2159.4 1633.2 L2184.7 1638.4 L2211.0 1643.4 L2266.8 1652.8 L2329.9 1661.8"/>
<path stroke="#FF4040" d="M331.7 1673.5 L343.6 1673.2 L351.5 1672.7 L360.5 1671.5 L369.3 1669.9 L378.3 1667.8 L387.2 1665.1 L396.2 1661.8 L405.0 1658.1 L413.5 1653.8 L422.2 1649.0 L430.7 1643.7 L439.2 1637.8 L447.4 1631.4 L455.6 1624.5 L463.5 1617.1 L471.0 1609.4 L482.5 1596.5 L493.3 1582.6 L503.9 1567.2 L514.4 1550.2 L523.2 1534.8 L532.4 1517.4 L561.7 1458.2 L573.1 1436.2 L585.1 1414.6 L596.7 1396.0 L603.4 1386.2 L610.2 1377.0 L617.1 1368.3 L624.1 1360.1 L631.5 1352.2 L639.0 1344.9 L646.6 1338.1 L653.9 1332.2 L660.2 1327.6 L666.6 1323.4 L672.9 1319.8 L679.4 1316.6 L685.6 1314.1 L691.6 1312.2 L697.7 1310.7 L703.9 1309.8 L713.2 1309.4 L723.7 1310.3 L733.7 1312.0 L758.4 1317.1 L771.1 1318.8 L777.2 1319.0 L783.2 1318.8 L788.9 1318.1 L794.8 1316.9 L801.3 1314.8 L808.0 1312.0 L814.1 1308.7 L820.2 1304.7 L826.0 1300.1 L831.3 1295.1 L836.2 1289.6 L840.5 1283.7 L846.2 1274.5 L852.0 1263.1 L859.9 1245.8 L867.2 1227.9 L873.6 1210.9 L879.6 1193.0 L885.4 1174.3 L890.7 1155.0 L896.9 1130.4 L902.7 1104.2 L918.6 1022.4 L925.4 990.0 L947.5 893.8 L967.0 806.8 L974.8 773.6 L982.1 744.5 L989.5 717.6 L996.7 692.9 L1001.7 678.4 L1006.5 666.8 L1012.1 656.2 L1018.4 646.8 L1025.2 638.7 L1028.7 635.5 L1032.2 632.7 L1035.6 630.7 L1039.0 629.1 L1042.2 628.3 L1045.4 628.0 L1050.4 628.7 L1055.5 630.7 L1061.1 634.2 L1066.8 639.0 L1073.5 645.9 L1081.6 655.3 L1089.1 665.1 L1096.5 675.7 L1107.7 693.8 L1120.7 717.6 L1133.2 741.9 L1165.7 807.9 L1175.9 827.5 L1185.5 844.7 L1196.9 863.4 L1208.4 880.6 L1220.1 896.1 L1232.4 910.7 L1244.7 923.7 L1258.5 937.5 L1274.3 952.1 L1321.6 994.9 L1336.6 1009.3 L1351.8 1024.8 L1368.4 1042.5 L1386.5 1062.6 L1446.5 1132.0 L1469.8 1158.2 L1493.6 1183.7 L1516.7 1206.7 L1546.8 1234.6 L1583.1 1266.1 L1658.4 1328.7 L1713.2 1373.3 L1754.8 1405.8 L1793.4 1434.7 L1830.2 1460.7 L1865.4 1484.0 L1900.1 1505.4 L1934.8 1525.2 L1969.9 1543.5 L2005.0 1560.2 L2038.2 1574.5 L2071.9 1587.6 L2105.7 1599.3 L2139.6 1609.6 L2163.8 1616.1 L2188.3 1621.9 L2212.9 1627.0 L2263.8 1636.6 L2285.7 1641.0 L2308.0 1646.2 L2329.7 1652.1"/>
</g>
<g font-size="75.5">
<text x="286" y="1719.5" text-anchor="end" textLength="38.27" lengthAdjust="spacingAndGlyphs">0</text>
<text x="286" y="1556.6" text-anchor="end" textLength="114.81" lengthAdjust="spacingAndGlyphs">100</text>
<text x="286" y="1393.7" text-anchor="end" textLength="114.81" lengthAdjust="spacingAndGlyphs">200</text>
<text x="286" y="1230.8" text-anchor="end" textLength="114.81" lengthAdjust="spacingAndGlyphs">300</text>
<text x="286" y="1067.9" text-anchor="end" textLength="114.81" lengthAdjust="spacingAndGlyphs">400</text>
<text x="286" y="905.0" text-anchor="end" textLength="114.81" lengthAdjust="spacingAndGlyphs">500</text>
<text x="286" y="742.1" text-anchor="end" textLength="114.81" lengthAdjust="spacingAndGlyphs">600</text>
<text x="286" y="579.2" text-anchor="end" textLength="114.81" lengthAdjust="spacingAndGlyphs">700</text>
<text x="286" y="416.3" text-anchor="end" textLength="114.81" lengthAdjust="spacingAndGlyphs">800</text>
<text x="286" y="253.4" text-anchor="end" textLength="114.81" lengthAdjust="spacingAndGlyphs">900</text>
<text x="286" y="90.5" text-anchor="end" textLength="153.08" lengthAdjust="spacingAndGlyphs">1000</text>
<text x="339.8" y="1809.3" text-anchor="middle" textLength="114.81" lengthAdjust="spacingAndGlyphs">450</text>
<text x="736.2" y="1809.3" text-anchor="middle" textLength="114.81" lengthAdjust="spacingAndGlyphs">500</text>
<text x="1132.7" y="1809.3" text-anchor="middle" textLength="114.81" lengthAdjust="spacingAndGlyphs">550</text>
<text x="1529.1" y="1809.3" text-anchor="middle" textLength="114.81" lengthAdjust="spacingAndGlyphs">600</text>
<text x="1925.6" y="1809.3" text-anchor="middle" textLength="114.81" lengthAdjust="spacingAndGlyphs">650</text>
<text x="2322.0" y="1809.3" text-anchor="middle" textLength="114.81" lengthAdjust="spacingAndGlyphs">700</text>
</g>
<text x="1332.5" y="1960.8" font-size="84.5" text-anchor="middle" textLength="589.98" lengthAdjust="spacingAndGlyphs">Wavelength (nm)</text>
<text transform="translate(95.8 883.5) rotate(-90)" font-size="85.5" text-anchor="middle" textLength="656.12" lengthAdjust="spacingAndGlyphs">Fluorescence (a.u.)</text>
<g stroke-width="12" stroke-linecap="round">
<line x1="1668" y1="65.3" x2="1816" y2="65.3" stroke="#0000FF"/>
<line x1="1668" y1="155.1" x2="1816" y2="155.1" stroke="#FF4040"/>
<line x1="1668" y1="244.9" x2="1816" y2="244.9" stroke="#0070E6"/>
<line x1="1668" y1="334.7" x2="1816" y2="334.7" stroke="#00AF66"/>
<line x1="1668" y1="424.5" x2="1816" y2="424.5" stroke="#C27AE4"/>
<line x1="1668" y1="514.3" x2="1816" y2="514.3" stroke="#DC9C00"/>
<line x1="1668" y1="604.1" x2="1816" y2="604.1" stroke="#00CDCD"/>
<line x1="1668" y1="693.9" x2="1816" y2="693.9" stroke="#8C4D4E"/>
<line x1="1668" y1="783.7" x2="1816" y2="783.7" stroke="#908F00"/>
<line x1="1668" y1="873.5" x2="1816" y2="873.5" stroke="#FF6600"/>
<line x1="1668" y1="963.3" x2="1816" y2="963.3" stroke="#419AD0"/>
<line x1="1668" y1="1053.1" x2="1816" y2="1053.1" stroke="#32B900"/>
<line x1="1668" y1="1142.9" x2="1816" y2="1142.9" stroke="#737373"/>
<line x1="1668" y1="1232.7" x2="1816" y2="1232.7" stroke="#FF4040"/>
</g>
<g font-size="60.8">
<text transform="translate(1830 86.9) scale(0.988 1)" textLength="190.86" lengthAdjust="spacingAndGlyphs">T1-DNA</text>
<g transform="translate(1830 176.7) scale(0.988 1)"><text textLength="415.1" lengthAdjust="spacingAndGlyphs">T1 + ID1 4.79×10</text><text x="415.1" y="-23.4" font-size="40.5" textLength="12.4" lengthAdjust="spacingAndGlyphs">-</text><text x="427.5" y="-25" font-size="40.5" textLength="20.6" lengthAdjust="spacingAndGlyphs">7</text><text x="461.8" textLength="52" lengthAdjust="spacingAndGlyphs">M</text></g>
<g transform="translate(1830 266.5) scale(0.988 1)"><text textLength="415.1" lengthAdjust="spacingAndGlyphs">T1 + ID1 7.19×10</text><text x="415.1" y="-23.4" font-size="40.5" textLength="12.4" lengthAdjust="spacingAndGlyphs">-</text><text x="427.5" y="-25" font-size="40.5" textLength="20.6" lengthAdjust="spacingAndGlyphs">7</text><text x="461.8" textLength="52" lengthAdjust="spacingAndGlyphs">M</text></g>
<g transform="translate(1830 356.3) scale(0.988 1)"><text textLength="415.1" lengthAdjust="spacingAndGlyphs">T1 + ID1 9.59×10</text><text x="415.1" y="-23.4" font-size="40.5" textLength="12.4" lengthAdjust="spacingAndGlyphs">-</text><text x="427.5" y="-25" font-size="40.5" textLength="20.6" lengthAdjust="spacingAndGlyphs">7</text><text x="461.8" textLength="52" lengthAdjust="spacingAndGlyphs">M</text></g>
<g transform="translate(1830 446.1) scale(0.988 1)"><text textLength="415.1" lengthAdjust="spacingAndGlyphs">T1 + ID1 1.19×10</text><text x="415.1" y="-23.4" font-size="40.5" textLength="12.4" lengthAdjust="spacingAndGlyphs">-</text><text x="427.5" y="-25" font-size="40.5" textLength="20.6" lengthAdjust="spacingAndGlyphs">6</text><text x="461.8" textLength="52" lengthAdjust="spacingAndGlyphs">M</text></g>
<g transform="translate(1830 535.9) scale(0.988 1)"><text textLength="415.1" lengthAdjust="spacingAndGlyphs">T1 + ID1 1.43×10</text><text x="415.1" y="-23.4" font-size="40.5" textLength="12.4" lengthAdjust="spacingAndGlyphs">-</text><text x="427.5" y="-25" font-size="40.5" textLength="20.6" lengthAdjust="spacingAndGlyphs">6</text><text x="461.8" textLength="52" lengthAdjust="spacingAndGlyphs">M</text></g>
<g transform="translate(1830 625.7) scale(0.988 1)"><text textLength="415.1" lengthAdjust="spacingAndGlyphs">T1 + ID1 1.66×10</text><text x="415.1" y="-23.4" font-size="40.5" textLength="12.4" lengthAdjust="spacingAndGlyphs">-</text><text x="427.5" y="-25" font-size="40.5" textLength="20.6" lengthAdjust="spacingAndGlyphs">6</text><text x="461.8" textLength="52" lengthAdjust="spacingAndGlyphs">M</text></g>
<g transform="translate(1830 715.5) scale(0.988 1)"><text textLength="415.1" lengthAdjust="spacingAndGlyphs">T1 + ID1 1.90×10</text><text x="415.1" y="-23.4" font-size="40.5" textLength="12.4" lengthAdjust="spacingAndGlyphs">-</text><text x="427.5" y="-25" font-size="40.5" textLength="20.6" lengthAdjust="spacingAndGlyphs">6</text><text x="461.8" textLength="52" lengthAdjust="spacingAndGlyphs">M</text></g>
<g transform="translate(1830 805.3) scale(0.988 1)"><text textLength="415.1" lengthAdjust="spacingAndGlyphs">T1 + ID1 2.14×10</text><text x="415.1" y="-23.4" font-size="40.5" textLength="12.4" lengthAdjust="spacingAndGlyphs">-</text><text x="427.5" y="-25" font-size="40.5" textLength="20.6" lengthAdjust="spacingAndGlyphs">6</text><text x="461.8" textLength="52" lengthAdjust="spacingAndGlyphs">M</text></g>
<g transform="translate(1830 895.1) scale(0.988 1)"><text textLength="415.1" lengthAdjust="spacingAndGlyphs">T1 + ID1 2.38×10</text><text x="415.1" y="-23.4" font-size="40.5" textLength="12.4" lengthAdjust="spacingAndGlyphs">-</text><text x="427.5" y="-25" font-size="40.5" textLength="20.6" lengthAdjust="spacingAndGlyphs">6</text><text x="461.8" textLength="52" lengthAdjust="spacingAndGlyphs">M</text></g>
<g transform="translate(1830 984.9) scale(0.988 1)"><text textLength="415.1" lengthAdjust="spacingAndGlyphs">T1 + ID1 3.32×10</text><text x="415.1" y="-23.4" font-size="40.5" textLength="12.4" lengthAdjust="spacingAndGlyphs">-</text><text x="427.5" y="-25" font-size="40.5" textLength="20.6" lengthAdjust="spacingAndGlyphs">6</text><text x="461.8" textLength="52" lengthAdjust="spacingAndGlyphs">M</text></g>
<g transform="translate(1830 1074.7) scale(0.988 1)"><text textLength="415.1" lengthAdjust="spacingAndGlyphs">T1 + ID1 9.45×10</text><text x="415.1" y="-23.4" font-size="40.5" textLength="12.4" lengthAdjust="spacingAndGlyphs">-</text><text x="427.5" y="-25" font-size="40.5" textLength="20.6" lengthAdjust="spacingAndGlyphs">6</text><text x="461.8" textLength="52" lengthAdjust="spacingAndGlyphs">M</text></g>
<g transform="translate(1830 1164.5) scale(0.988 1)"><text textLength="415.1" lengthAdjust="spacingAndGlyphs">T1 + ID1 1.87×10</text><text x="415.1" y="-23.4" font-size="40.5" textLength="12.4" lengthAdjust="spacingAndGlyphs">-</text><text x="427.5" y="-25" font-size="40.5" textLength="20.6" lengthAdjust="spacingAndGlyphs">5</text><text x="461.8" textLength="52" lengthAdjust="spacingAndGlyphs">M</text></g>
<g transform="translate(1830 1254.3) scale(0.988 1)"><text textLength="415.1" lengthAdjust="spacingAndGlyphs">T1 + ID1 2.79×10</text><text x="415.1" y="-23.4" font-size="40.5" textLength="12.4" lengthAdjust="spacingAndGlyphs">-</text><text x="427.5" y="-25" font-size="40.5" textLength="20.6" lengthAdjust="spacingAndGlyphs">5</text><text x="461.8" textLength="52" lengthAdjust="spacingAndGlyphs">M</text></g>
</g>
<g fill="#EC0000" stroke="#EC0000" stroke-linejoin="round" stroke-width="9">
<rect x="430" y="324.8" width="12.8" height="316" stroke="none"/>
<polygon points="420.7,638.5 453.3,638.5 439,701.5 435,701.5"/>
</g>
<g fill="#500050" stroke="#500050" stroke-linejoin="round" stroke-width="9">
<rect x="1345.9" y="705" width="13.1" height="147.9" stroke="none"/>
<polygon points="1336.3,709.1 1369.6,709.1 1354.5,646.4 1350.5,646.4"/>
</g>
</svg>
</body></html>
